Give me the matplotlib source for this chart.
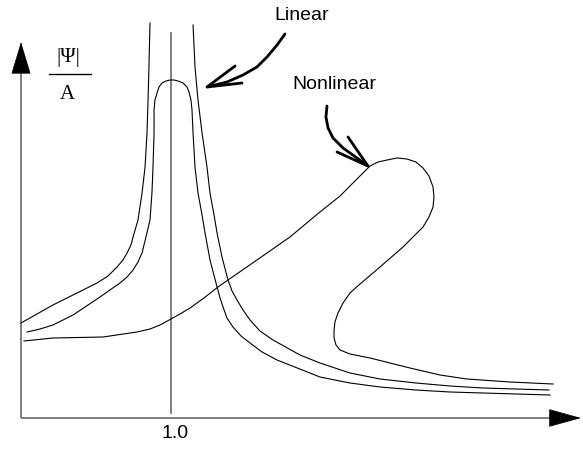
import numpy as np
import matplotlib
matplotlib.use("Agg")
import matplotlib.pyplot as plt

# ---- data (x: frequency ratio, y: normalized amplitude |Psi|/A) ----
lin_outer_left_x = [0.0, 0.213, 0.507, 0.58, 0.64, 0.68, 0.707, 0.733, 0.747, 0.78, 0.807, 0.827,
                    0.84, 0.847, 0.853, 0.86]
lin_outer_left_y = [0.95, 1.13, 1.35, 1.42, 1.51, 1.58, 1.65, 1.73, 1.81, 1.98, 2.25, 2.51,
                    2.85, 3.18, 3.51, 3.95]
lin_outer_right_x = [1.147, 1.16, 1.18, 1.207, 1.24, 1.26, 1.287, 1.307, 1.34, 1.38, 1.407, 1.44,
                     1.48, 1.527, 1.593, 1.68, 1.86, 1.993, 2.193, 2.393, 2.633, 2.86, 3.08, 3.52]
lin_outer_right_y = [3.93, 3.51, 3.18, 2.85, 2.51, 2.25, 2.03, 1.85, 1.61, 1.38, 1.27, 1.18,
                     1.08, 0.98, 0.87, 0.78, 0.63, 0.55, 0.45, 0.39, 0.35, 0.32, 0.30, 0.28]

lin_inner_x = [0.04, 0.127, 0.213, 0.347, 0.507, 0.593, 0.66, 0.707, 0.747, 0.78, 0.807, 0.833,
               0.86, 0.873, 0.88, 0.887, 0.887, 0.893, 0.907, 0.92, 0.94, 0.967, 0.993, 1.02,
               1.047, 1.08, 1.107, 1.12, 1.133, 1.14, 1.147, 1.16, 1.18, 1.207, 1.227, 1.26,
               1.307, 1.327, 1.347, 1.373, 1.413, 1.467, 1.527, 1.607, 1.707, 1.993, 2.193,
               2.393, 2.633, 2.86, 3.08, 3.527]
lin_inner_y = [0.86, 0.89, 0.93, 1.03, 1.19, 1.28, 1.35, 1.41, 1.48, 1.56, 1.65, 1.81,
               1.98, 2.25, 2.51, 2.85, 3.08, 3.18, 3.25, 3.31, 3.35, 3.37, 3.38, 3.38,
               3.37, 3.35, 3.31, 3.26, 3.18, 3.08, 2.85, 2.51, 2.25, 2.03, 1.85, 1.58,
               1.31, 1.20, 1.11, 1.00, 0.91, 0.82, 0.75, 0.66, 0.58, 0.41, 0.35,
               0.31, 0.28, 0.26, 0.25, 0.23]

nonlin_x = [0.02, 0.213, 0.547, 0.773, 0.86, 0.927, 1.0, 1.06, 1.127, 1.22, 1.313, 1.38, 1.573,
            1.793, 1.993, 2.127, 2.213, 2.273, 2.327, 2.38, 2.44, 2.507, 2.573, 2.633, 2.68,
            2.72, 2.747, 2.753, 2.747, 2.72, 2.68, 2.613, 2.547, 2.447, 2.347, 2.26, 2.193,
            2.147, 2.113, 2.093, 2.087, 2.087, 2.10, 2.127, 2.193, 2.327, 2.593, 2.793, 2.973,
            3.26, 3.547]
nonlin_y = [0.77, 0.80, 0.81, 0.86, 0.89, 0.93, 0.99, 1.04, 1.10, 1.20, 1.31, 1.38, 1.58,
            1.81, 2.06, 2.22, 2.35, 2.44, 2.52, 2.56, 2.58, 2.60, 2.59, 2.56, 2.50,
            2.42, 2.31, 2.21, 2.11, 2.01, 1.91, 1.81, 1.71, 1.58, 1.45, 1.34, 1.25,
            1.15, 1.05, 0.96, 0.88, 0.80, 0.73, 0.68, 0.64, 0.60, 0.50, 0.43, 0.39,
            0.36, 0.34]

ratio_mark = 1.0
ratio_label = "1.0"
x_max, y_max = 3.733, 3.76

lin_arrow_x = [1.76, 1.707, 1.64, 1.573, 1.48, 1.373, 1.24]
lin_arrow_y = [3.84, 3.73, 3.61, 3.51, 3.43, 3.36, 3.31]
lin_barb_x = [1.427, 1.24, 1.473]
lin_barb_y = [3.52, 3.31, 3.35]
nl_arrow_x = [2.04, 2.033, 2.047, 2.08, 2.147, 2.24, 2.313]
nl_arrow_y = [3.12, 3.01, 2.90, 2.80, 2.70, 2.60, 2.52]
nl_barb_x = [2.18, 2.313, 2.107]
nl_barb_y = [2.81, 2.52, 2.66]

# ---- figure ----
fig = plt.figure(figsize=(5.83, 4.49), dpi=100)
ax = fig.add_axes([0, 0, 1, 1])
ax.set_xlim(-0.14, 3.7467)
ax.set_ylim(-0.31, 4.18)
ax.axis("off")

axis_col = "#6a6a6a"
curve_lw = 0.8

# axes with arrowheads
ax.plot([0, x_max - 0.2], [0, 0], color=axis_col, lw=1.2, solid_capstyle="butt")
ax.plot([0, 0], [0, y_max - 0.3], color=axis_col, lw=1.2, solid_capstyle="butt")
ax.annotate("", xy=(x_max, 0), xytext=(x_max - 0.2, 0),
            arrowprops=dict(arrowstyle="-|>,head_length=21.6,head_width=6.0",
                            mutation_scale=1, color="black", lw=0.5,
                            shrinkA=0, shrinkB=0))
ax.annotate("", xy=(0, y_max), xytext=(0, y_max - 0.3),
            arrowprops=dict(arrowstyle="-|>,head_length=21.6,head_width=6.5",
                            mutation_scale=1, color="black", lw=0.5,
                            shrinkA=0, shrinkB=0))

# vertical line at ratio 1.0
ax.plot([ratio_mark, ratio_mark], [0.05, 3.85], color=axis_col, lw=1.2)

# curves
ax.plot(lin_outer_left_x, lin_outer_left_y, color="black", lw=curve_lw)
ax.plot(lin_outer_right_x, lin_outer_right_y, color="black", lw=curve_lw)
ax.plot(lin_inner_x, lin_inner_y, color="black", lw=curve_lw)
ax.plot(nonlin_x, nonlin_y, color="black", lw=curve_lw)

# annotation arrows
for sx, sy, bx, by in [(lin_arrow_x, lin_arrow_y, lin_barb_x, lin_barb_y),
                       (nl_arrow_x, nl_arrow_y, nl_barb_x, nl_barb_y)]:
    ax.plot(sx, sy, color="black", lw=2.0, solid_capstyle="round", solid_joinstyle="round")
    ax.plot(bx, by, color="black", lw=2.0, solid_capstyle="round", solid_joinstyle="miter")

sans = ["Liberation Sans", "DejaVu Sans"]
serif = ["Liberation Serif", "DejaVu Serif"]
ax.text(1.873, 4.02, "Linear", family=sans, fontsize=14, ha="center", va="center")
ax.text(2.087, 3.33, "Nonlinear", family=sans, fontsize=14, ha="center", va="center")
ax.text(1.027, -0.15, ratio_label, family=sans, fontsize=14, ha="center", va="center")

ax.text(0.313, 3.60, "|\u03a8|", family=serif, fontsize=15, ha="center", va="center")
ax.plot([0.187, 0.467], [3.44, 3.44], color="black", lw=1.0)
ax.text(0.307, 3.235, "A", family=serif, fontsize=15, ha="center", va="center")

fig.savefig("out.png", dpi=100)
